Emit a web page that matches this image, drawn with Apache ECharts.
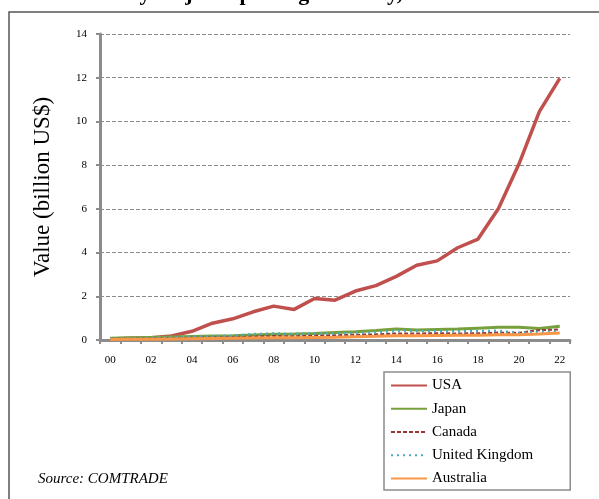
<!DOCTYPE html>
<html>
<head>
<meta charset="utf-8">
<script src="https://cdn.jsdelivr.net/npm/echarts@6/dist/echarts.min.js"></script>
<style>
  html, body { margin: 0; padding: 0; background: #fff; }
  #main { width: 599px; height: 499px; }
</style>
</head>
<body>
<div id="main"></div>
<script>
// years 2000-2022, shown as two digits
var years = ['00','01','02','03','04','05','06','07','08','09','10','11','12','13','14','15','16','17','18','19','20','21','22'];

// values in billion US$
var usa       = [0.05,0.08,0.1,0.18,0.4,0.77,0.97,1.29,1.55,1.4,1.9,1.82,2.24,2.49,2.91,3.42,3.62,4.22,4.62,6.02,8.05,10.45,11.97];
var japan     = [0.08,0.1,0.12,0.14,0.16,0.18,0.2,0.23,0.26,0.27,0.3,0.34,0.38,0.43,0.5,0.46,0.48,0.5,0.54,0.58,0.58,0.53,0.63];
var canada    = [0.05,0.06,0.07,0.09,0.1,0.12,0.14,0.16,0.18,0.17,0.2,0.22,0.24,0.26,0.3,0.3,0.31,0.3,0.31,0.34,0.33,0.45,0.48];
var uk        = [0.05,0.07,0.09,0.12,0.15,0.17,0.2,0.27,0.3,0.28,0.3,0.3,0.32,0.35,0.42,0.42,0.41,0.4,0.41,0.42,0.32,0.38,0.4];
var australia = [0.02,0.03,0.04,0.05,0.06,0.07,0.08,0.09,0.1,0.1,0.12,0.13,0.15,0.17,0.2,0.2,0.21,0.22,0.22,0.24,0.24,0.27,0.32];

var serif = '"Liberation Serif", "DejaVu Serif", serif';

function line(name, data, color, width, type) {
  return {
    name: name,
    type: 'line',
    data: data,
    symbol: 'none',
    smooth: false,
    lineStyle: { color: color, width: width, type: type },
    itemStyle: { color: color }
  };
}

var chart = echarts.init(document.getElementById('main'));

var option = {
  animation: false,
  backgroundColor: '#fff',
  textStyle: { fontFamily: serif, color: '#000' },
  grid: { left: 100, right: 29, top: 34, bottom: 159 },
  xAxis: {
    type: 'category',
    data: years,
    boundaryGap: true,
    axisLine: { lineStyle: { color: '#8c8c8c', width: 3 } },
    axisTick: { show: true, interval: 0, length: 4, inside: false, lineStyle: { color: '#8c8c8c', width: 2 } },
    axisLabel: { interval: 1, fontFamily: serif, fontSize: 11, color: '#000', margin: 15 }
  },
  yAxis: {
    type: 'value',
    min: 0,
    max: 14,
    interval: 2,
    name: 'Value (billion US$)',
    nameLocation: 'middle',
    nameRotate: 90,
    nameGap: 46,
    nameTextStyle: { fontFamily: serif, fontSize: 23, color: '#000' },
    axisLine: { show: true, lineStyle: { color: '#8c8c8c', width: 3 } },
    axisTick: { show: true, length: 4, lineStyle: { color: '#8c8c8c', width: 2 } },
    axisLabel: { fontFamily: serif, fontSize: 11, color: '#000', margin: 13 },
    splitLine: { show: true, lineStyle: { color: '#8a8a8a', width: 1, type: [4, 2] } }
  },
  legend: {
    orient: 'vertical',
    left: 384,
    top: 372,
    itemWidth: 36,
    itemHeight: 12,
    itemGap: 8.25,
    padding: [6, 37, 4, 6],
    borderColor: '#8c8c8c',
    borderWidth: 1.5,
    itemStyle: { opacity: 0 },
    textStyle: { fontFamily: serif, fontSize: 15, color: '#000' },
    data: ['USA', 'Japan', 'Canada', 'United Kingdom', 'Australia']
  },
  graphic: [
    {
      type: 'rect',
      shape: { x: 9, y: 12, width: 700, height: 600 },
      style: { fill: 'none', stroke: '#555', lineWidth: 1.5 },
      silent: true
    },
    {
      type: 'text',
      left: 18,
      top: -17,
      style: {
        text: 'Total value by major exporting economy, 2000-2022',
        font: 'bold 22px "Liberation Serif", serif',
        fill: '#000'
      }
    },
    {
      type: 'text',
      left: 38,
      top: 472,
      style: {
        text: 'Source: COMTRADE',
        font: 'italic 15px "Liberation Serif", serif',
        fill: '#000'
      }
    }
  ],
  series: [
    line('USA', usa, '#c0504d', 3.5, 'solid'),
    line('Japan', japan, '#77a03c', 3, 'solid'),
    line('Canada', canada, '#953735', 2, [4, 2]),
    line('United Kingdom', uk, '#4bacc6', 2.5, [2, 4]),
    line('Australia', australia, '#f79646', 3, 'solid')
  ]
};

chart.setOption(option);
</script>
</body>
</html>
